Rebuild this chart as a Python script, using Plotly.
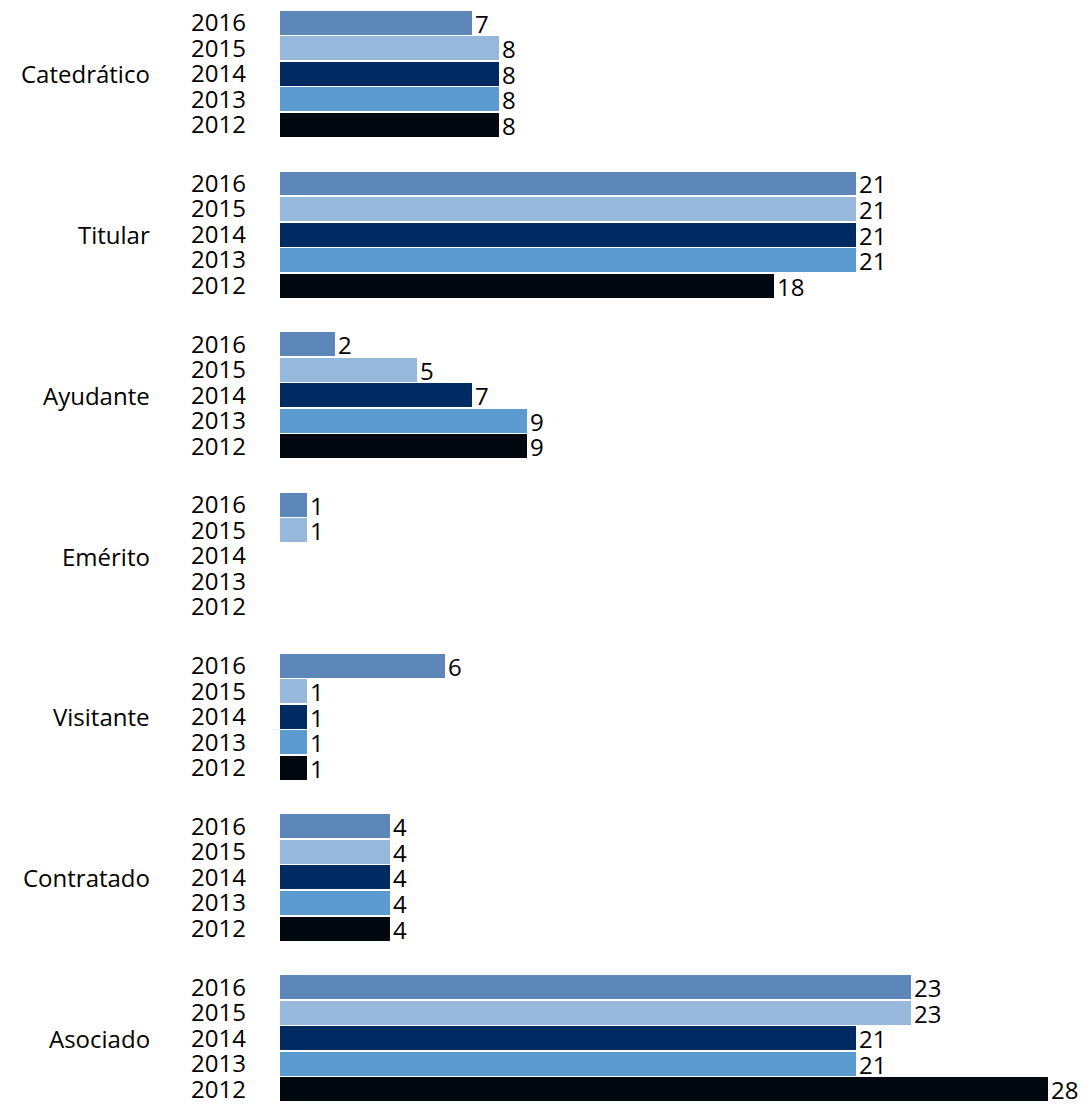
import plotly.graph_objects as go

# --- DATA ---
CATEGORIES = ["Catedrático", "Titular", "Ayudante", "Emérito", "Visitante", "Contratado", "Asociado"]
YEARS = ["2016", "2015", "2014", "2013", "2012"]

VALUES = {
    "2016": [7, 21, 2, 1, 6, 4, 23],
    "2015": [8, 21, 5, 1, 1, 4, 23],
    "2014": [8, 21, 7, 0, 1, 4, 21],
    "2013": [8, 21, 9, 0, 1, 4, 21],
    "2012": [8, 18, 9, 0, 1, 4, 28],
}

COLORS = {
    "2016": "#5E87B9",
    "2015": "#95B8DB",
    "2014": "#002B62",
    "2013": "#5B9BD0",
    "2012": "#02080F",
}

FONT = "'Open Sans', 'Noto Sans', sans-serif"
GROUP_STEP = 6.3  # slots between group starts (5 bars + gap)


def slot(g, k):
    return g * GROUP_STEP + k


fig = go.Figure()

for k, yr in enumerate(YEARS):
    vals = VALUES[yr]
    fig.add_trace(go.Bar(
        x=vals,
        y=[slot(g, k) for g in range(len(CATEGORIES))],
        orientation="h",
        name=yr,
        width=0.94,
        marker=dict(color=COLORS[yr], line=dict(width=0)),
        text=[str(v) if v else "" for v in vals],
        textposition="outside",
        constraintext="none",
        textfont=dict(family=FONT, size=24, color="#000000"),
        cliponaxis=False,
        showlegend=False,
    ))

tickvals = [slot(g, k) for g in range(len(CATEGORIES)) for k in range(len(YEARS))]
ticktext = [YEARS[k] for g in range(len(CATEGORIES)) for k in range(len(YEARS))]

for g, cat in enumerate(CATEGORIES):
    fig.add_annotation(
        x=0, xref="paper", y=slot(g, 2), yref="y",
        text=cat, showarrow=False, xanchor="right", xshift=-128,
        font=dict(family=FONT, size=24, color="#000000"),
    )

last = slot(len(CATEGORIES) - 1, len(YEARS) - 1)

# page body adds an 8px offset, so the figure is sized to the remaining area
fig.update_layout(
    width=1083,
    height=1100,
    margin=dict(l=272, r=43, t=2, b=6),
    paper_bgcolor="white",
    plot_bgcolor="white",
    bargap=0,
    xaxis=dict(range=[0, 28], visible=False, fixedrange=True, automargin=False),
    yaxis=dict(
        range=[last + 0.5, -0.5],
        tickvals=tickvals,
        ticktext=ticktext,
        showgrid=False,
        zeroline=False,
        showline=False,
        ticks="",
        automargin=False,
        ticklabeloverflow="allow",
        ticklabelstandoff=33,
        tickfont=dict(family=FONT, size=24, color="#000000"),
    ),
)

fig.write_html("out.html")
